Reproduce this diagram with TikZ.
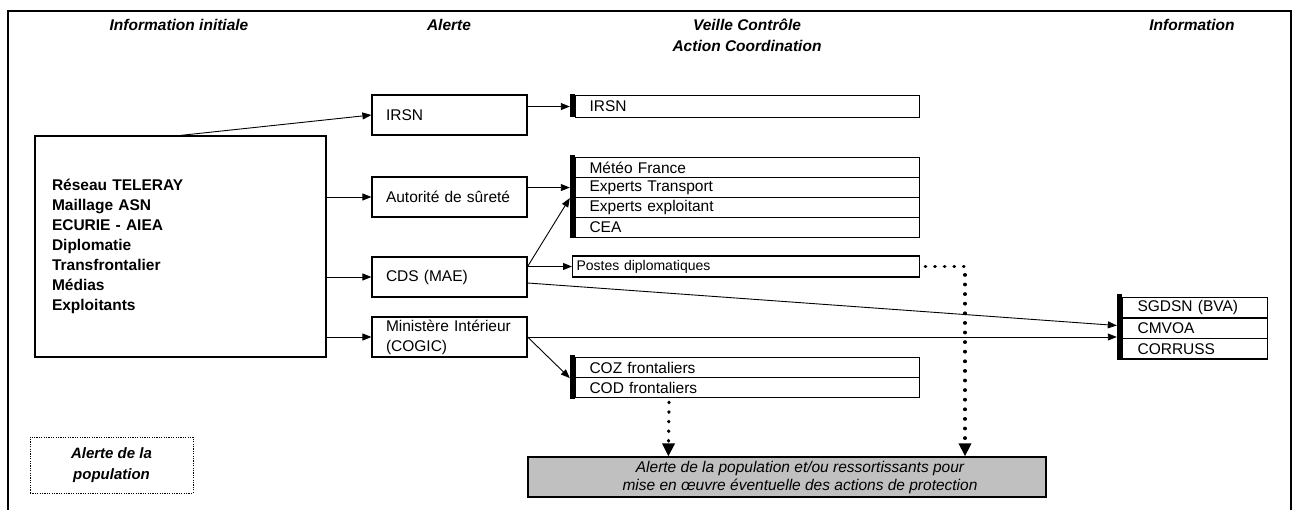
\documentclass[tikz,border=0pt]{standalone}
\usepackage{fontspec}
\setmainfont{Liberation Sans}
\usetikzlibrary{arrows.meta}
\definecolor{popgray}{RGB}{192,192,192}

\begin{document}
\begin{tikzpicture}[x=1pt,y=-1pt,
	every node/.style={font=\fontsize{15.5}{20}\selectfont, inner sep=0pt},
	head/.style={font=\fontsize{15.5}{21}\selectfont\bfseries\itshape, align=center},
	alertbox/.style={draw, line width=1.2pt, minimum height=40pt, text width=127pt, inner xsep=14pt, align=left},
	rowbox/.style={draw, line width=1.1pt, anchor=north west, minimum height=20pt, text width=316pt, inner xsep=14pt, align=left},
	inforow/.style={draw, line width=1.1pt, anchor=north west, minimum height=20.5pt, text width=115pt, inner xsep=15pt, align=left},
	bar/.style={fill=black, minimum width=5pt},
	arr/.style={line width=0.9pt, -{Triangle[length=9pt,width=7pt]}},
	dotarr/.style={line width=3.2pt, line cap=round, dash pattern=on 0.6pt off 9pt, -{Triangle[length=13pt,width=12pt]}}]
		\useasboundingbox (0,0) rectangle (1298,510);
		\draw[line width=1.6pt] (8,510)--(8,11)--(1291,11)--(1291,510);

		\node[head] (hinit) at (179,25) {Information initiale};
		\node[head] (halert) at (449,25) {Alerte};
		\node[head] (hveille) at (747,35.5) {Veille Contrôle\\Action Coordination};
		\node[head] (hinfo) at (1192,25) {Information};

		\node[draw, line width=1.2pt, minimum height=221pt, text width=257pt, inner xsep=17pt, align=left, font=\fontsize{15.5}{20}\selectfont\bfseries] (sources) at (180.5,246.5) {Réseau TELERAY\\Maillage ASN\\ECURIE - AIEA\\Diplomatie\\Transfrontalier\\Médias\\Exploitants};

		\node[alertbox] (irsn) at (449.5,115) {IRSN};
		\node[alertbox] (asn) at (449.5,197) {Autorité de sûreté};
		\node[alertbox] (cds) at (449.5,277) {CDS (MAE)};
		\node[alertbox] (mi) at (449.5,337) {Ministère Intérieur\\(COGIC)};

		\node[rowbox, minimum height=22pt] (virsn) at (575,95) {IRSN};
		\node[bar, minimum height=23pt] (barirsn) at (572.5,106) {};

		\node[rowbox] (meteo) at (575,157) {Météo France};
		\node[rowbox] (exptr) at (575,177) {Experts Transport};
		\node[rowbox] (expex) at (575,197) {Experts exploitant};
		\node[rowbox] (cea) at (575,217) {CEA};
		\node[bar, minimum height=83pt] (barexp) at (572.5,197) {};

		\node[draw, line width=1.1pt, anchor=west, minimum height=21pt, text width=339pt, inner xsep=4pt, align=left, font=\fontsize{14}{16}\selectfont] (postes) at (572,266.5) {Postes diplomatiques};

		\node[rowbox] (coz) at (575,357) {COZ frontaliers};
		\node[rowbox] (cod) at (575,377) {COD frontaliers};
		\node[bar, minimum height=44pt] (barcoz) at (572.5,377) {};

		\node[inforow] (sgdsn) at (1122,297) {SGDSN (BVA)};
		\node[inforow] (cmvoa) at (1122,317.5) {CMVOA};
		\node[inforow] (corruss) at (1122,338) {CORRUSS};
		\node[bar, minimum height=66pt] (barinfo) at (1119.5,327.5) {};

		\node[draw, line width=1.2pt, fill=popgray, minimum width=518pt, minimum height=40pt, align=center, font=\fontsize{15.5}{18}\selectfont\itshape] (protect) at (787,477) {\hspace*{26pt}Alerte de la population et/ou ressortissants pour\\\hspace*{26pt}mise en œuvre éventuelle des actions de protection};

		\node[draw, line width=0.8pt, dash pattern=on 1.2pt off 1.2pt, minimum width=163pt, minimum height=56pt, align=center, font=\fontsize{15}{21}\selectfont\bfseries\itshape] (legend) at (111.5,465) {Alerte de la\\population};

		\draw[arr] (sources.north) -- (irsn.west);
		\draw[arr] (sources.east |- asn.west) -- (asn.west);
		\draw[arr] (sources.east |- cds.west) -- (cds.west);
		\draw[arr] (sources.east |- mi.west) -- (mi.west);
		\draw[arr] (irsn.east |- virsn.west) -- (barirsn.west |- virsn.west);
		\draw[arr] (asn.east |- exptr.west) -- (barexp.west |- exptr.west);
		\draw[arr] (cds.east |- postes.west) -- (postes.west);
		\draw[arr] (cds.east |- postes.west) -- (barexp.west |- exptr.south);
		\draw[arr] ([yshift=-6pt]cds.east) -- ([yshift=2pt]barinfo.west);
		\draw[arr] (mi.east) -- (barinfo.west |- mi.east);
		\draw[arr] (mi.east) -- (barcoz.west |- coz.south);
		\draw[dotarr] ([xshift=5pt]postes.east) -| ([xshift=178pt]protect.north);
		\draw[dotarr] ([xshift=94pt,yshift=-4pt]cod.south west) -- ([xshift=141pt]protect.north west);
	\end{tikzpicture}
\end{document}
